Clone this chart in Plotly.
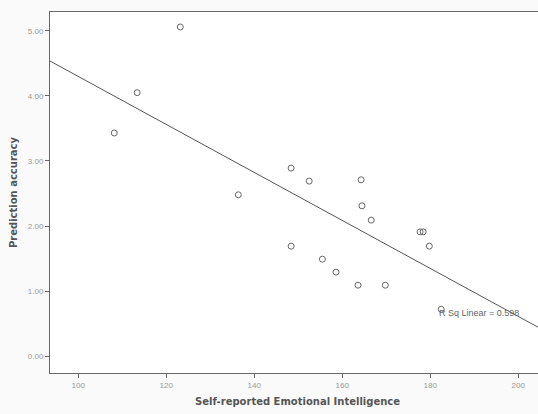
import plotly.graph_objects as go

# Self-reported Emotional Intelligence (x) vs Prediction accuracy (y)
ei = [123.2, 113.4, 108.2, 136.4, 148.4, 152.5, 164.3, 164.5, 166.6,
      177.7, 178.4, 179.8, 148.4, 155.5, 158.6, 163.6, 169.8, 182.5]
acc = [5.06, 4.05, 3.43, 2.48, 2.89, 2.69, 2.71, 2.31, 2.09,
       1.91, 1.91, 1.69, 1.69, 1.49, 1.29, 1.09, 1.09, 0.72]

x_ticks = [100, 120, 140, 160, 180, 200]
y_ticks = [0, 1, 2, 3, 4, 5]
x_range = [93.6, 204.5]
y_range = [-0.26, 5.29]

# Linear fit line
fit_intercept = 7.99
fit_slope = -0.0369
r2_label = "R Sq Linear = 0.598"
x_title = "Self-reported Emotional Intelligence"
y_title = "Prediction accuracy"

fit_x = list(x_range)
fit_y = [fit_intercept + fit_slope * v for v in fit_x]

fig = go.Figure()
fig.add_trace(go.Scatter(
    x=fit_x, y=fit_y, mode="lines",
    line=dict(color="#555555", width=1), hoverinfo="skip", showlegend=False))
fig.add_trace(go.Scatter(
    x=ei, y=acc, mode="markers",
    marker=dict(symbol="circle-open", size=6, color="#666666", line=dict(width=1)),
    showlegend=False))

fig.add_annotation(x=181.5, y=0.66, xref="x", yref="y", text=r2_label,
                   showarrow=False, xanchor="left", yanchor="middle",
                   font=dict(family="Liberation Sans, Arial", size=9, color="#666666"))

title_font = dict(family="DejaVu Sans", size=10, color="#555555")
fig.add_annotation(x=0.508, y=-0.078, xref="paper", yref="paper",
                   text="<b>" + x_title + "</b>", showarrow=False,
                   xanchor="center", yanchor="middle", font=title_font)

axis_common = dict(showline=True, linecolor="#666666", linewidth=1, mirror=True,
                   ticks="outside", ticklen=4, tickcolor="#666666",
                   showgrid=False, zeroline=False,
                   tickfont=dict(family="Liberation Sans, Arial", size=8, color="#999999"))

fig.update_layout(
    width=538, height=414,
    margin=dict(l=50, r=0, t=12, b=41),
    paper_bgcolor="#fafafa", plot_bgcolor="#ffffff",
    xaxis=dict(range=x_range, tickvals=x_ticks, **axis_common),
    yaxis=dict(range=y_range, tickvals=y_ticks, tickformat=".2f", **axis_common,
               title=dict(text="<b>" + y_title + "</b>", standoff=8,
                          font=title_font)),
)

fig.write_html("out.html")
